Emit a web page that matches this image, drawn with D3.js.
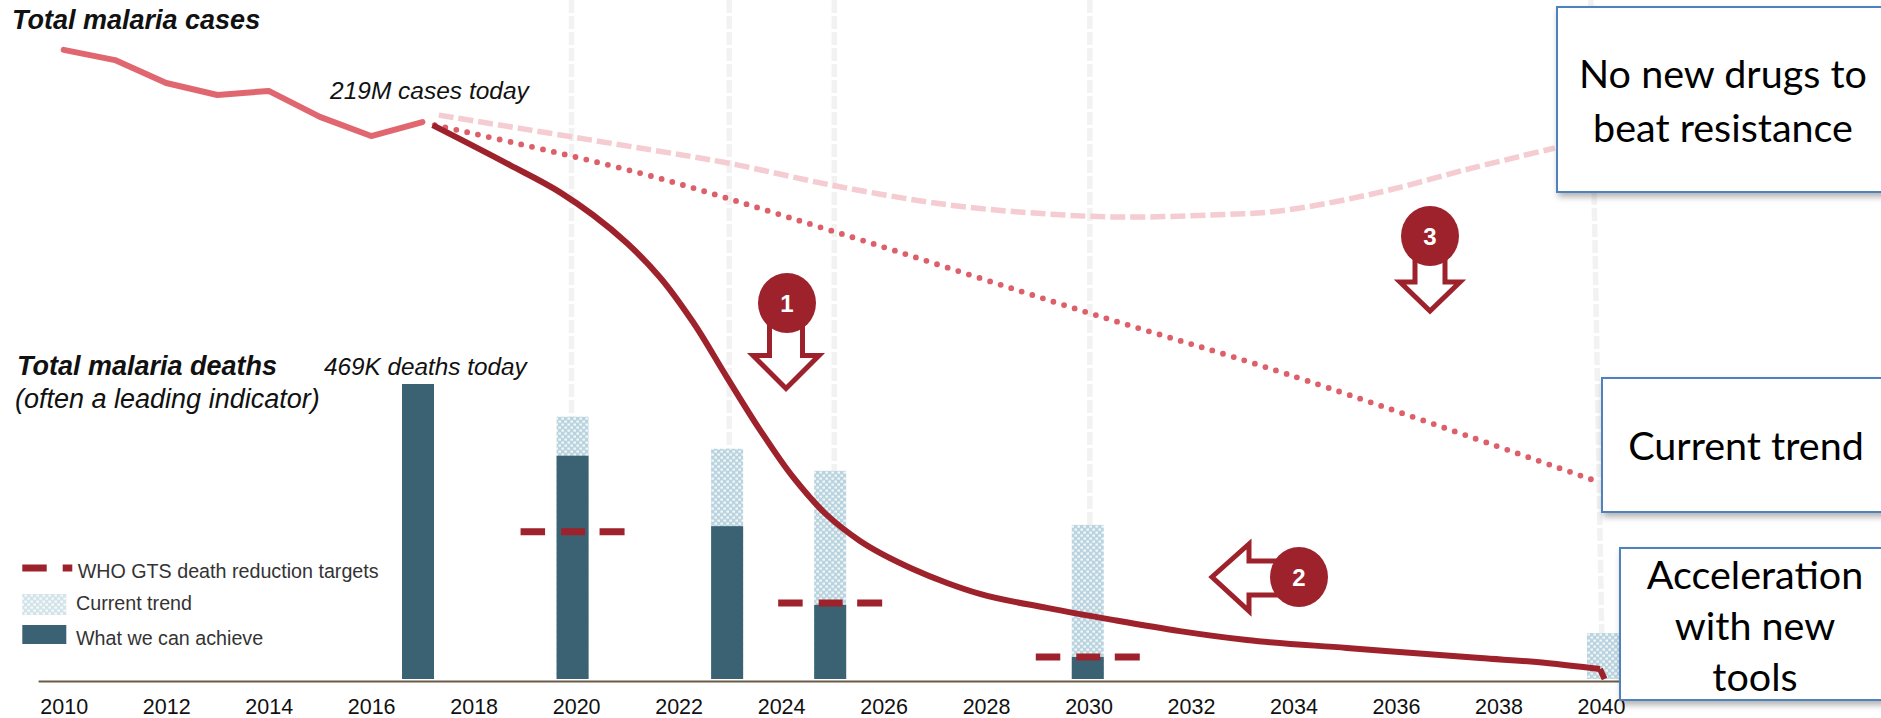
<!DOCTYPE html>
<html>
<head>
<meta charset="utf-8">
<title>Total malaria cases and deaths</title>
<script src="https://cdn.jsdelivr.net/npm/d3@7"></script>
<style>
  html, body { margin: 0; padding: 0; background: #fff; overflow: hidden; }
  text { font-family: "Liberation Sans", Arial, sans-serif; fill: #111; }
  .box-text { font-family: Lato, "Open Sans", sans-serif; text-anchor: middle; font-size: 39.5px; fill: #000; }
</style>
</head>
<body>
<div id="chart"></div>
<script>
// Constants for chart dimensions
const width = 1881;
const height = 718;
const axisY = 681;
const barBase = 679;
const barWidth = 32;

// Total malaria cases, millions
const historyYears = [2010, 2011, 2012, 2013, 2014, 2015, 2016, 2017];
const historyCases = [246.9, 242.9, 233.9, 229.2, 230.8, 220.6, 213.1, 218.6];

const accelYears = [2017.2, 2018.71, 2019.68, 2020.33, 2020.99, 2021.63, 2022.28, 2022.94, 2023.59, 2024.23, 2024.89, 2025.54, 2026.57, 2027.24, 2027.88, 2029.19, 2030.47, 2031.78, 2033.09, 2035.04, 2036.33, 2037.64, 2038.94, 2039.98];
const accelCases = [217.4, 201.7, 191.1, 182.1, 171.1, 157.8, 140.1, 118.5, 97.7, 79.3, 64.4, 54.2, 43.2, 37.7, 33.4, 27.9, 23.2, 18.8, 15.3, 12.2, 10.2, 8.2, 6.3, 3.9];

// The last drop to zero is a straight kink in the reference
const dropYears = [2039.98, 2040.07];
const dropCases = [3.9, 0];

const trendYears = [2017.24, 2021.24, 2025.07, 2029.89, 2033.87, 2039.9];
const trendCases = [217.4, 198.6, 175.4, 144.4, 119.7, 77.7];

const noDrugYears = [2017.32, 2021.24, 2022.96, 2025.07, 2027.29, 2029.2, 2030.64, 2032.39, 2033.73, 2035.61, 2037.48, 2039.1];
const noDrugCases = [221.3, 208.4, 202.5, 193.5, 186, 182.5, 181.3, 182.1, 183.7, 190.7, 200.5, 208.4];

// Total malaria deaths, thousands
const barYears = [2017, 2020, 2023, 2025, 2030, 2040];
const achieveDeaths = [469, 355, 243, 118, 35, 0];
const currentDeaths = [469, 417, 366, 331, 245, 73];

const targetYears = [2020, 2025, 2030];
const targetDeaths = [234, 121, 35];

const gridYears = [2019.98, 2023.04, 2025.08, 2030.04, 2039.88];
const tickYears = d3.range(2010, 2041, 2);

const DARK_RED = "#9e222c";
const MID_RED = "#e0666f";
const PALE_RED = "#f4ccd1";
const BAR_DARK = "#3b6272";
const BOX_BLUE = "#4f81bd";

const svg = d3.select("#chart")
  .append("svg")
  .attr("width", width)
  .attr("height", height);

const defs = svg.append("defs");

// Dotted fill for the current trend bars
const pattern = defs.append("pattern")
  .attr("id", "dots")
  .attr("patternUnits", "userSpaceOnUse")
  .attr("width", 6)
  .attr("height", 6);
pattern.append("rect").attr("width", 6).attr("height", 6).attr("fill", "#b9d4de");
pattern.append("rect").attr("x", 0.4).attr("y", 0.5).attr("width", 2.6).attr("height", 2.2).attr("fill", "#f2f7f9");
pattern.append("rect").attr("x", 3.4).attr("y", 3.5).attr("width", 2.6).attr("height", 2.2).attr("fill", "#f2f7f9");

const shadow = defs.append("filter")
  .attr("id", "shadow")
  .attr("x", "-5%").attr("y", "-5%")
  .attr("width", "110%").attr("height", "115%");
shadow.append("feDropShadow")
  .attr("dx", 2).attr("dy", 4)
  .attr("stdDeviation", 3)
  .attr("flood-color", "#000")
  .attr("flood-opacity", 0.3);

// Scales. The bars sit on a slightly wider year scale than the axis labels
const x = d3.scaleLinear().domain([2009.5, 2040.5]).range([38.1, 1626.6]);
const barX = d3.scaleLinear().domain([2017, 2040]).range([418, 1603]);
const yCases = d3.scaleLinear().domain([0, 219]).range([barBase, 121]);
const yDeaths = d3.scaleLinear().domain([0, 469]).range([barBase, 384]);

// Grid lines stop at the tops of the bars, the last one leans slightly
svg.selectAll(".grid")
  .data(gridYears)
  .enter()
  .append("line")
  .attr("class", "grid")
  .attr("x1", (d) => barX(d) - (d > 2035 ? 6 : 0))
  .attr("x2", (d) => barX(d) + (d > 2035 ? 5 : 0))
  .attr("y1", 0)
  .attr("y2", 640)
  .attr("stroke", "#f2f2f2")
  .attr("stroke-width", 5.5)
  .attr("stroke-dasharray", "13 3");

// Bars
const bars = barYears.map((year, i) => ({ year, achieve: achieveDeaths[i], current: currentDeaths[i] }));

svg.selectAll(".bar-current")
  .data(bars.filter((d) => d.current > d.achieve))
  .enter()
  .append("rect")
  .attr("class", "bar-current")
  .attr("x", (d) => barX(d.year) - barWidth / 2)
  .attr("width", barWidth)
  .attr("y", (d) => yDeaths(d.current))
  .attr("height", (d) => barBase - yDeaths(d.current))
  .attr("fill", "url(#dots)");

svg.selectAll(".bar-achieve")
  .data(bars.filter((d) => d.achieve > 0))
  .enter()
  .append("rect")
  .attr("class", "bar-achieve")
  .attr("x", (d) => barX(d.year) - barWidth / 2)
  .attr("width", barWidth)
  .attr("y", (d) => yDeaths(d.achieve))
  .attr("height", (d) => barBase - yDeaths(d.achieve))
  .attr("fill", BAR_DARK);

// WHO targets
svg.selectAll(".target")
  .data(targetYears.map((year, i) => ({ year, deaths: targetDeaths[i] })))
  .enter()
  .append("line")
  .attr("class", "target")
  .attr("x1", (d) => barX(d.year) - 52)
  .attr("x2", (d) => barX(d.year) + 52)
  .attr("y1", (d) => yDeaths(d.deaths))
  .attr("y2", (d) => yDeaths(d.deaths))
  .attr("stroke", DARK_RED)
  .attr("stroke-width", 7)
  .attr("stroke-dasharray", "24.5 16 24 14.5 25");

// Axis
const xAxis = d3.axisBottom(x)
  .tickValues(tickYears)
  .tickFormat(d3.format("d"))
  .tickSize(0)
  .tickPadding(17.7);

const axisG = svg.append("g")
  .attr("transform", `translate(0, ${axisY})`)
  .call(xAxis);
axisG.select(".domain").attr("stroke", "#6b5a45").attr("stroke-width", 2);
axisG.selectAll("text")
  .attr("font-family", "Liberation Sans")
  .attr("font-size", 21.5)
  .attr("fill", "#111");

// Lines
const makeLine = d3.line()
  .x((d) => x(d[0]))
  .y((d) => yCases(d[1]));

svg.append("path")
  .datum(d3.zip(noDrugYears, noDrugCases))
  .attr("fill", "none")
  .attr("stroke", PALE_RED)
  .attr("stroke-width", 5.5)
  .attr("stroke-dasharray", "15 5")
  .attr("d", makeLine.curve(d3.curveCatmullRom));

svg.append("path")
  .datum(d3.zip(trendYears, trendCases))
  .attr("fill", "none")
  .attr("stroke", "#dd5f6a")
  .attr("stroke-width", 5.8)
  .attr("stroke-linecap", "round")
  .attr("stroke-dasharray", "0 11.1")
  .attr("d", makeLine.curve(d3.curveCatmullRom));

svg.append("path")
  .datum(d3.zip(accelYears, accelCases))
  .attr("fill", "none")
  .attr("stroke", DARK_RED)
  .attr("stroke-width", 6)
  .attr("d", makeLine.curve(d3.curveCatmullRom.alpha(1)));

svg.append("path")
  .datum(d3.zip(dropYears, dropCases))
  .attr("fill", "none")
  .attr("stroke", DARK_RED)
  .attr("stroke-width", 6)
  .attr("d", makeLine.curve(d3.curveLinear));

svg.append("path")
  .datum(d3.zip(historyYears, historyCases))
  .attr("fill", "none")
  .attr("stroke", MID_RED)
  .attr("stroke-width", 6)
  .attr("stroke-linecap", "round")
  .attr("stroke-linejoin", "round")
  .attr("d", makeLine.curve(d3.curveLinear));

// Titles and notes
function label(str, lx, ly, size, weight) {
  svg.append("text")
    .attr("x", lx)
    .attr("y", ly)
    .attr("font-size", size)
    .attr("font-style", "italic")
    .attr("font-weight", weight || "normal")
    .text(str);
}
label("Total malaria cases", 12, 28.5, 27, "bold");
label("219M cases today", 330, 99, 24.5);
label("Total malaria deaths", 17, 375, 27, "bold");
label("(often a leading indicator)", 15, 407.5, 27);
label("469K deaths today", 324, 375, 24.3);

// Legend
const legend = svg.append("g");
legend.append("line")
  .attr("x1", 22.3).attr("x2", 72.3)
  .attr("y1", 568).attr("y2", 568)
  .attr("stroke", DARK_RED)
  .attr("stroke-width", 7)
  .attr("stroke-dasharray", "24.4 16 10");
legend.append("rect")
  .attr("x", 22.3).attr("y", 594)
  .attr("width", 44).attr("height", 21)
  .attr("fill", "url(#dots)")
  .attr("opacity", 0.65);
legend.append("rect")
  .attr("x", 22.3).attr("y", 625)
  .attr("width", 44).attr("height", 19)
  .attr("fill", BAR_DARK);
[["WHO GTS death reduction targets", 77.7, 578], ["Current trend", 76, 610], ["What we can achieve", 76, 645]]
  .forEach(([str, lx, ly]) => {
    legend.append("text")
      .attr("x", lx)
      .attr("y", ly)
      .attr("font-size", 19.7)
      .style("fill", "#333")
      .text(str);
  });

// Numbered arrows
function marker(num, cx, cy, arrowPoints) {
  svg.append("polygon")
    .attr("points", arrowPoints)
    .attr("fill", "#fff")
    .attr("stroke", DARK_RED)
    .attr("stroke-width", 5);
  svg.append("ellipse")
    .attr("cx", cx).attr("cy", cy)
    .attr("rx", 29).attr("ry", 30)
    .attr("fill", DARK_RED);
  svg.append("text")
    .attr("x", cx).attr("y", cy + 9)
    .attr("text-anchor", "middle")
    .attr("font-size", 24)
    .attr("font-weight", "bold")
    .style("fill", "#fff")
    .text(num);
}
marker("1", 787, 303, "769.5,320 802.5,320 802.5,355.5 819,355.5 786,388.5 753,355.5 769.5,355.5");
marker("2", 1299, 577, "1280,561 1249,561 1249,544 1212,577 1249,611 1249,595 1280,595");
marker("3", 1430, 236, "1415,255 1445,255 1445,282 1460,282 1430,311 1400,282 1415,282");

// Scenario boxes
const boxes = [
  { left: 1557, top: 7, bottom: 192, lines: ["No new drugs to", "beat resistance"], cx: 1723, first: 88, step: 54 },
  { left: 1602, top: 378, bottom: 512, lines: ["Current trend"], cx: 1746, first: 460, step: 0 },
  { left: 1620, top: 548, bottom: 700, lines: ["Acceleration", "with new", "tools"], cx: 1755, first: 589, step: 51 },
];
boxes.forEach((b) => {
  svg.append("rect")
    .attr("x", b.left)
    .attr("y", b.top)
    .attr("width", width + 20 - b.left)
    .attr("height", b.bottom - b.top)
    .attr("fill", "#fff")
    .attr("stroke", BOX_BLUE)
    .attr("stroke-width", 2)
    .attr("filter", "url(#shadow)");
  b.lines.forEach((line, i) => {
    svg.append("text")
      .attr("class", "box-text")
      .attr("x", b.cx)
      .attr("y", b.first + i * b.step)
      .text(line);
  });
});
</script>
</body>
</html>
